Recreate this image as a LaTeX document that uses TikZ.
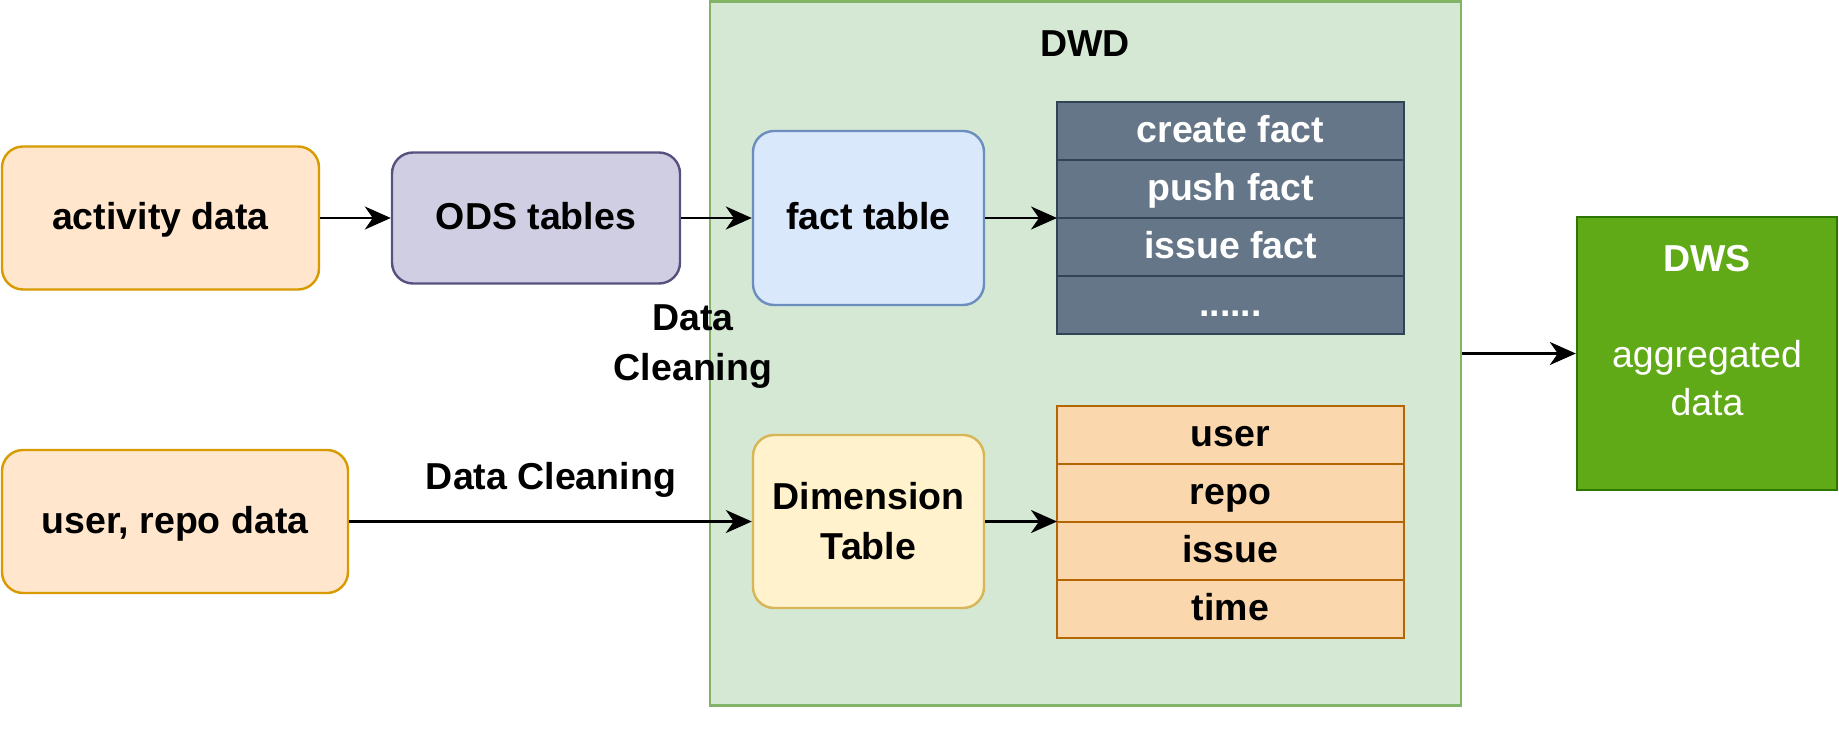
\documentclass[tikz,border=0pt]{standalone}
\usepackage{fontspec}
\setmainfont{Liberation Sans}
\usetikzlibrary{arrows.meta}
\definecolor{actF}{HTML}{FFE6CC}
\definecolor{actD}{HTML}{D79B00}
\definecolor{odsF}{HTML}{D0CEE2}
\definecolor{odsD}{HTML}{56517E}
\definecolor{dwdF}{HTML}{D5E8D4}
\definecolor{dwdD}{HTML}{82B366}
\definecolor{facF}{HTML}{DAE8FC}
\definecolor{facD}{HTML}{6C8EBF}
\definecolor{ftF}{HTML}{647687}
\definecolor{ftD}{HTML}{314354}
\definecolor{dimF}{HTML}{FFF2CC}
\definecolor{dimD}{HTML}{D6B656}
\definecolor{dtF}{HTML}{FAD7AC}
\definecolor{dtD}{HTML}{B46504}
\definecolor{dwsF}{HTML}{60A917}
\definecolor{dwsD}{HTML}{2D7600}
\begin{document}
\begin{tikzpicture}[x=1pt,y=-1pt,
  txt/.style={font=\fontsize{37.5}{50}\selectfont\bfseries, align=center, inner sep=0pt},
  oneline/.style={text height=30pt, text depth=6.5pt},
  box/.style={txt, draw, line width=2.4pt, rounded corners=21pt},
  row/.style={txt, oneline, draw, line width=2.4pt, minimum width=347pt, minimum height=58pt, outer sep=0pt},
  frow/.style={row, fill=ftF, draw=ftD, text=white},
  drow/.style={row, fill=dtF, draw=dtD},
  conn/.style={line width=2.5pt, -{Stealth[length=26pt,width=23pt,inset=8pt]}}
]
\useasboundingbox (0,0) rectangle (1839,752);
% container
\node[draw=dwdD, fill=dwdF, line width=2.4pt, minimum width=751pt, minimum height=704pt, inner sep=0pt] (dwd) at (1085.5,353.5) {};
\node[txt, oneline] (dwdl) at (1085,45) {DWD};
% left boxes
\node[box, oneline, fill=actF, draw=actD, minimum width=317pt, minimum height=143pt] (act) at (160.5,218) {activity data};
\node[box, oneline, fill=odsF, draw=odsD, minimum width=288pt, minimum height=131pt] (ods) at (536,218) {ODS tables};
\node[box, oneline, fill=actF, draw=actD, minimum width=346pt, minimum height=143pt] (usr) at (175,521.5) {user, repo data};
% inner boxes
\node[box, oneline, fill=facF, draw=facD, minimum width=231pt, minimum height=174pt] (fact) at (868.5,218) {fact table};
\node[box, fill=dimF, draw=dimD, minimum width=231pt, minimum height=173pt] (dim) at (868.5,521.5) {Dimension\\Table};
% fact rows
\node[frow] (f1) at (1230.5,131) {create fact};
\node[frow] (f2) at (1230.5,189) {push fact};
\node[frow] (f3) at (1230.5,247) {issue fact};
\node[frow] (f4) at (1230.5,305) {......};
% dim rows
\node[drow] (d1) at (1230.5,435) {user};
\node[drow] (d2) at (1230.5,493) {repo};
\node[drow] (d3) at (1230.5,551) {issue};
\node[drow] (d4) at (1230.5,609) {time};
% DWS
\node[draw=dwsD, fill=dwsF, line width=2.4pt, minimum width=260pt, minimum height=273pt, inner sep=0pt] (dws) at (1707,353.5) {};
\node[txt, text=white, font=\fontsize{37.5}{48}\selectfont] (dwst) at (1707,331) {\textbf{DWS}\\[48pt]aggregated\\data};
% labels
\node[txt] (dc1) at (693,347) {Data\\Cleaning};
\node[txt, oneline] (dc2) at (551,478) {Data Cleaning};
% connectors
\draw[conn] (act.east) -- (act.east -| ods.west);
\draw[conn] (ods.east) -- (ods.east -| fact.west);
\draw[conn] (fact.east) -- (fact.east -| f3.north west);
\draw[conn] (usr.east) -- (usr.east -| dim.west);
\draw[conn] (dim.east) -- (dim.east -| d3.north west);
\draw[conn] (dwd.east |- dws.west) -- (dws.west);
\end{tikzpicture}
\end{document}
